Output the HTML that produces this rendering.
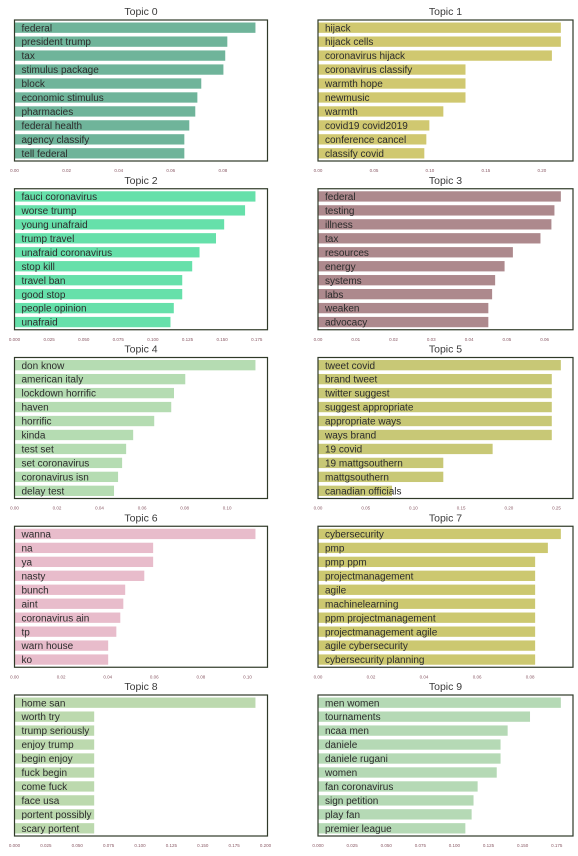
<!DOCTYPE html>
<html><head><meta charset="utf-8">
<style>
html,body{margin:0;padding:0;background:#fff;}
svg{display:block;font-family:"Liberation Sans",sans-serif;}
</style></head>
<body>
<svg id="chart" width="578" height="856" viewBox="0 0 578 856" xmlns="http://www.w3.org/2000/svg"></svg>
<script>
const topicTitles = ["Topic 0","Topic 1","Topic 2","Topic 3","Topic 4","Topic 5","Topic 6","Topic 7","Topic 8","Topic 9"];
const terms0 = ["federal","president trump","tax","stimulus package","block","economic stimulus","pharmacies","federal health","agency classify","tell federal"];
const values0 = [0.0925,0.0817,0.0809,0.0802,0.0717,0.0702,0.0694,0.0671,0.0652,0.0652];
const terms1 = ["hijack","hijack cells","coronavirus hijack","coronavirus classify","warmth hope","newmusic","warmth","covid19 covid2019","conference cancel","classify covid"];
const values1 = [0.217,0.217,0.209,0.1318,0.1318,0.1318,0.112,0.0995,0.0968,0.095];
const terms2 = ["fauci coronavirus","worse trump","young unafraid","trump travel","unafraid coronavirus","stop kill","travel ban","good stop","people opinion","unafraid"];
const values2 = [0.1741,0.1666,0.1515,0.1456,0.1337,0.1284,0.1212,0.1212,0.1151,0.1127];
const terms3 = ["federal","testing","illness","tax","resources","energy","systems","labs","weaken","advocacy"];
const values3 = [0.0643,0.0626,0.0618,0.0589,0.0516,0.0494,0.0469,0.0461,0.0451,0.0451];
const terms4 = ["don know","american italy","lockdown horrific","haven","horrific","kinda","test set","set coronavirus","coronavirus isn","delay test"];
const values4 = [0.1133,0.0803,0.0750,0.0737,0.0657,0.0558,0.0525,0.0506,0.0487,0.0468];
const terms5 = ["tweet covid","brand tweet","twitter suggest","suggest appropriate","appropriate ways","ways brand","19 covid","19 mattgsouthern","mattgsouthern","canadian officials"];
const values5 = [0.2545,0.245,0.245,0.245,0.245,0.245,0.183,0.1313,0.1313,0.0776];
const terms6 = ["wanna","na","ya","nasty","bunch","aint","coronavirus ain","tp","warn house","ko"];
const values6 = [0.1034,0.0595,0.0595,0.0557,0.0475,0.0467,0.0454,0.0437,0.0402,0.0402];
const terms7 = ["cybersecurity","pmp","pmp ppm","projectmanagement","agile","machinelearning","ppm projectmanagement","projectmanagement agile","agile cybersecurity","cybersecurity planning"];
const values7 = [0.0916,0.0867,0.0819,0.0819,0.0819,0.0819,0.0819,0.0819,0.0819,0.0819];
const terms8 = ["home san","worth try","trump seriously","enjoy trump","begin enjoy","fuck begin","come fuck","face usa","portent possibly","scary portent"];
const values8 = [0.192,0.0635,0.0635,0.0635,0.0635,0.0635,0.0635,0.0635,0.0635,0.0635];
const terms9 = ["men women","tournaments","ncaa men","daniele","daniele rugani","women","fan coronavirus","sign petition","play fan","premier league"];
const values9 = [0.178,0.1554,0.139,0.1338,0.1338,0.131,0.117,0.114,0.1126,0.108];
const ticks0 = [0,0.02,0.04,0.06,0.08];
const ticks1 = [0,0.05,0.10,0.15,0.20];
const ticks2 = [0,0.025,0.05,0.075,0.1,0.125,0.15,0.175];
const ticks3 = [0,0.01,0.02,0.03,0.04,0.05,0.06];
const ticks4 = [0,0.02,0.04,0.06,0.08,0.10];
const ticks5 = [0,0.05,0.10,0.15,0.20,0.25];
const ticks6 = [0,0.02,0.04,0.06,0.08,0.10];
const ticks7 = [0,0.02,0.04,0.06,0.08];
const ticks8 = [0,0.025,0.05,0.075,0.1,0.125,0.15,0.175,0.2];
const ticks9 = [0,0.025,0.05,0.075,0.1,0.125,0.15,0.175];
const tickDigits = [2,2,3,2,2,2,2,2,3,3];

const allTerms=[terms0,terms1,terms2,terms3,terms4,terms5,terms6,terms7,terms8,terms9];
const allValues=[values0,values1,values2,values3,values4,values5,values6,values7,values8,values9];
const allTicks=[ticks0,ticks1,ticks2,ticks3,ticks4,ticks5,ticks6,ticks7,ticks8,ticks9];
const colors=["#6fb49a","#d0c870","#66e0aa","#ad898d","#b5dcb2","#c8c876","#e8bccb","#ccc870","#bcd9ae","#b5d9b5"];

const NS="http://www.w3.org/2000/svg";
const svg=document.getElementById('chart');
function mk(tag,attrs,parent){const e=document.createElementNS(NS,tag);for(const k in attrs)e.setAttribute(k,attrs[k]);(parent||svg).appendChild(e);return e;}

for(let p=0;p<10;p++){
  const col=p%2,row=Math.floor(p/2);
  const L=col===0?14.5:318, W=col===0?253:255;
  const T=20+row*168.75, H=141;
  const vals=allValues[p], terms=allTerms[p], ticks=allTicks[p];
  const xmax=Math.max(...vals)*1.05;
  const xs=v=>L+v/xmax*W;
  const pitch=H/10.1;
  const yc=i=>T+(i+0.55)*pitch;
  const g=mk('g',{});
  
  
  const title=mk('text',{x:L+W/2,y:T-5,'text-anchor':'middle','font-size':'10.5',fill:'#3a3a3a'},g);
  title.textContent=topicTitles[p];
  
  
  for(let i=0;i<vals.length;i++){
    const bh=pitch*0.74;
    const r=mk('rect',{x:L,y:yc(i)-bh/2,width:xs(vals[i])-L,height:bh,fill:colors[p]},g);
    
    
    const t=mk('text',{x:L+7,y:yc(i)+3.6,'font-size':'10',fill:'#2c2c2c'},g);
    t.textContent=terms[i];
    
    
  }
  const fr=mk('rect',{x:L,y:T,width:W,height:H,fill:'none',stroke:'#2f3a28','stroke-width':'1.2'},g);
  
  
  for(const tv of ticks){
    const tt=mk('text',{x:xs(tv),y:T+H+11,'text-anchor':'middle','font-size':'4.5',fill:'#8a5a66'},g);
    tt.textContent=tv.toFixed(tickDigits[p]);
    
    
  }
}
</script>
</body></html>
